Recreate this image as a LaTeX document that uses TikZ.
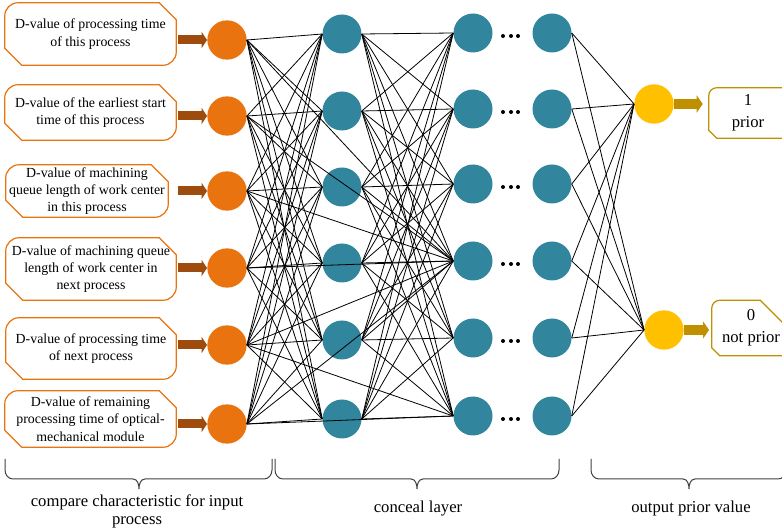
\documentclass[tikz,border=0pt]{standalone}
\usepackage{fontspec}
\setmainfont{Liberation Serif}
\usetikzlibrary{arrows.meta, calc}
\definecolor{corange}{HTML}{E9730F}
\definecolor{cbrown}{HTML}{9E4B0E}
\definecolor{cteal}{HTML}{31859C}
\definecolor{cyellow}{HTML}{FFC000}
\definecolor{cgold}{HTML}{BF9000}
\definecolor{cgrey}{HTML}{404040}
\tikzset{
  every picture/.style={x=0.75pt, y=0.75pt},
  incirc/.style={circle, fill=corange, inner sep=0pt, minimum size=29.5pt},
  hidcirc/.style={circle, fill=cteal, inner sep=0pt, minimum size=29.25pt},
  outcirc/.style={circle, fill=cyellow, inner sep=0pt, minimum size=29.5pt},
  featbox/.style={inner sep=0pt, align=center, font=\fontsize{10.4}{13}\selectfont},
  outbox/.style={inner sep=0pt, align=center, font=\fontsize{12.5}{16.5}\selectfont},
  link/.style={draw=black, line width=0.6pt},
  inarrow/.style={-{Triangle[length=4pt, width=12pt, line width=0pt]}, draw=cbrown, line width=6.75pt},
  outarrow/.style={-{Triangle[length=4.5pt, width=13pt, line width=0pt]}, draw=cgold, line width=7.5pt},
  bracepen/.style={draw=cgrey, line width=0.75pt},
  layerlabel/.style={align=center, font=\fontsize{12.5}{13.5}\selectfont},
}
% outline: node, corner radius, top-right cut, bottom-left cut, extra width, style
\newcommand{\tagshape}[6]{%
  \draw[#6] ([xshift=#2]#1.north west) -- ([xshift=#5-#3]#1.north east)
    -- ([xshift=#5, yshift=-#3]#1.north east) -- ([xshift=#5, yshift=#2]#1.south east)
    arc[start angle=0, end angle=-90, radius=#2] -- ([xshift=#4]#1.south west)
    -- ([yshift=#4]#1.south west) -- ([yshift=-#2]#1.north west)
    arc[start angle=180, end angle=90, radius=#2] -- cycle;}
% brace under a layer: left x, right x, tip x
\newcommand{\layerbrace}[3]{%
  \draw[bracepen] (#1,73) -- (#1,62) to[out=-90, in=180] (#1+8,53) -- (#3-6,53)
    to[out=0, in=90] (#3,43) to[out=90, in=180] (#3+6,53) -- (#2-8,53)
    to[out=0, in=-90] (#2,62) -- (#2,73);}

\begin{document}
\begin{tikzpicture}
  \useasboundingbox (0,0) rectangle (782,532);
  % input characteristics
  \foreach \cx/\cy/\w/\h/\txt [count=\k] in {
      90.5/498/171/62/{D-value of processing time\\of this process},
      90.5/419.5/171/55/{D-value of the earliest start\\time of this process},
      87/341/162/52/{D-value of machining\\queue length of work center\\in this process},
      91/263/170/62/{D-value of machining queue\\length of work center in\\next process},
      91/183.5/170/61/{D-value of processing time\\of next process},
      90.5/113/171/56/{D-value of remaining\\processing time of optical-\\mechanical module}} {
    \node[featbox, minimum width=\w*0.75pt, minimum height=\h*0.75pt] (feat\k) at (\cx,\cy) {\txt};
    \tagshape{feat\k}{10pt}{12.75pt}{12.75pt}{0pt}{draw=corange, line width=0.9pt}
  }
  \foreach \y [count=\k] in {492,416,341,264,187,108}
    \node[incirc] (in\k) at (227,\y) {};
  \foreach \y [count=\k] in {498,421,345,269,192,113}
    \node[hidcirc] (hid\k) at (342,\y) {};
  \foreach \y [count=\k] in {499,423,348,271,194,116} {
    \node[hidcirc] (mid\k) at (473,\y) {};
    \node[hidcirc] (last\k) at (552,\y) {};
    \foreach \dx in {503,511,518}
      \fill (\dx,\y-3) circle (1.5pt);
  }
  % outputs
  \node[outcirc] (out1) at (654,428) {};
  \node[outcirc] (out2) at (664,202) {};
  \node[outbox, minimum width=58.5pt, minimum height=37.5pt] (res1) at (748,419) {1\\prior};
  \node[outbox, minimum width=58.5pt, minimum height=41.25pt] (res2) at (751,204) {0\\not prior};
  \tagshape{res1}{6pt}{22.5pt}{6pt}{20pt}{draw=cgold, line width=0.9pt}
  \tagshape{res2}{6pt}{22.5pt}{6pt}{0pt}{draw=cgold, line width=0.9pt}
  % arrows
  \foreach \k in {1,...,6}
    \draw[inarrow, shorten <=1.5pt] (in\k -| feat1.east) -- (in\k.west);
  \draw[outarrow, shorten >=4.5pt] (out1.east) -- (out1 -| res1.west);
  \draw[outarrow, shorten >=2pt] (out2.east) -- (out2 -| res2.west);
  % links
  \foreach \a in {1,...,6} {
    \foreach \b in {1,...,6} {
      \draw[link] (in\a.east) -- (hid\b.west);
      \draw[link] (hid\a.east) -- (mid\b.west);
    }
    \draw[link] (in\a.east) -- (mid4.west);
    \draw[link] (last\a.east) -- (out1.west);
    \draw[link] (last\a.east) -- (out2.west);
  }
  \draw[link] (in5.east) -- (mid6.west);
  \draw[link] (in6.east) -- (mid6.west);
  % braces and labels
  \layerbrace{5}{272}{139}
  \layerbrace{275}{559}{417}
  \layerbrace{591}{786}{689}
  \node[layerlabel] (lblin) at (137,21) {compare characteristic for input\\process};
  \node[layerlabel] (lblhid) at (418,23) {conceal layer};
  \node[layerlabel] (lblout) at (691,24) {output prior value};
\end{tikzpicture}
\end{document}
